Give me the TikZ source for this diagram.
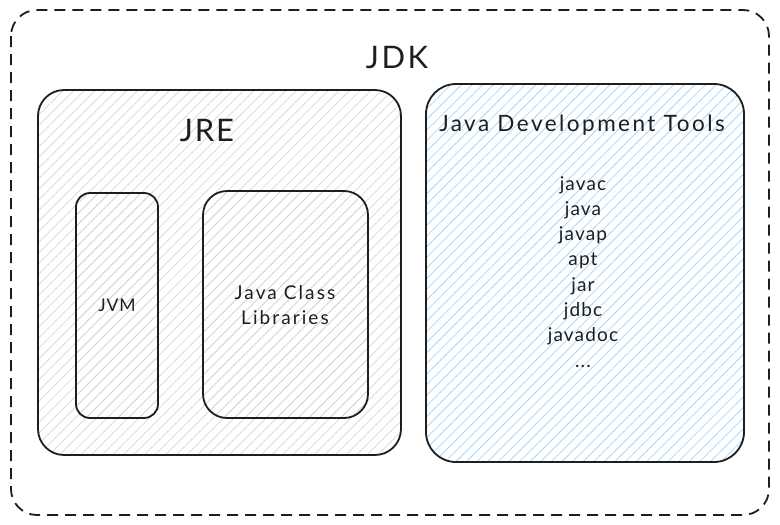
\documentclass[tikz,border=0pt]{standalone}
\usepackage{fontspec}
\setmainfont{Lato}
\usetikzlibrary{patterns.meta}
\definecolor{hatchgray}{HTML}{D6D6D6}
\definecolor{hatchblue}{HTML}{A5D8FF}
\definecolor{ink}{HTML}{1E1E1E}
\tikzset{
  outerbox/.style={draw=ink, line width=1.8pt, dash pattern=on 11pt off 7pt, rounded corners=26pt},
  graybox/.style={draw=ink, line width=1.8pt, pattern={Lines[angle=45,distance=7.5pt,line width=0.7pt]}, pattern color=hatchgray},
  bluebox/.style={draw=ink, line width=1.8pt, pattern={Lines[angle=45,distance=7.5pt,line width=0.8pt]}, pattern color=hatchblue},
  lbl/.style={text=ink, inner sep=0pt, align=center},
}
\begin{document}
\begin{tikzpicture}[x=1pt,y=-1pt]
\useasboundingbox (0,0) rectangle (780,525);
% JDK outer
\draw[outerbox] (11,10) rectangle (769,515);
\node[lbl, font=\fontsize{31}{34}\selectfont\addfontfeature{LetterSpace=8}] (jdk) at (397,58) {JDK};
% JRE
\draw[graybox, rounded corners=26pt] (38,90) rectangle (401,455);
\node[lbl, font=\fontsize{31}{34}\selectfont\addfontfeature{LetterSpace=6}] (jre) at (207,131) {JRE};
% JVM
\draw[graybox, rounded corners=14pt] (76,193) rectangle (158,418);
\node[lbl, font=\fontsize{17.5}{20}\selectfont\addfontfeature{LetterSpace=5}] (jvm) at (117,305) {JVM};
% Java Class Libraries
\draw[graybox, rounded corners=24pt] (203,191) rectangle (368,418);
\node[lbl, font=\fontsize{19}{25.5}\selectfont\addfontfeature{LetterSpace=11}] (jcl) at (285,305) {Java Class\\Libraries};
% JDT
\draw[bluebox, rounded corners=30pt] (426,84) rectangle (744,462);
\node[lbl, font=\fontsize{22.5}{24}\selectfont\addfontfeature{LetterSpace=11}] (jdt) at (582,125) {Java Development Tools};
\node[lbl, font=\fontsize{19}{25.3}\selectfont\addfontfeature{LetterSpace=6}, anchor=north] (tools) at (583,176) {javac\\java\\javap\\apt\\jar\\jdbc\\javadoc\\...};
\end{tikzpicture}
\end{document}
